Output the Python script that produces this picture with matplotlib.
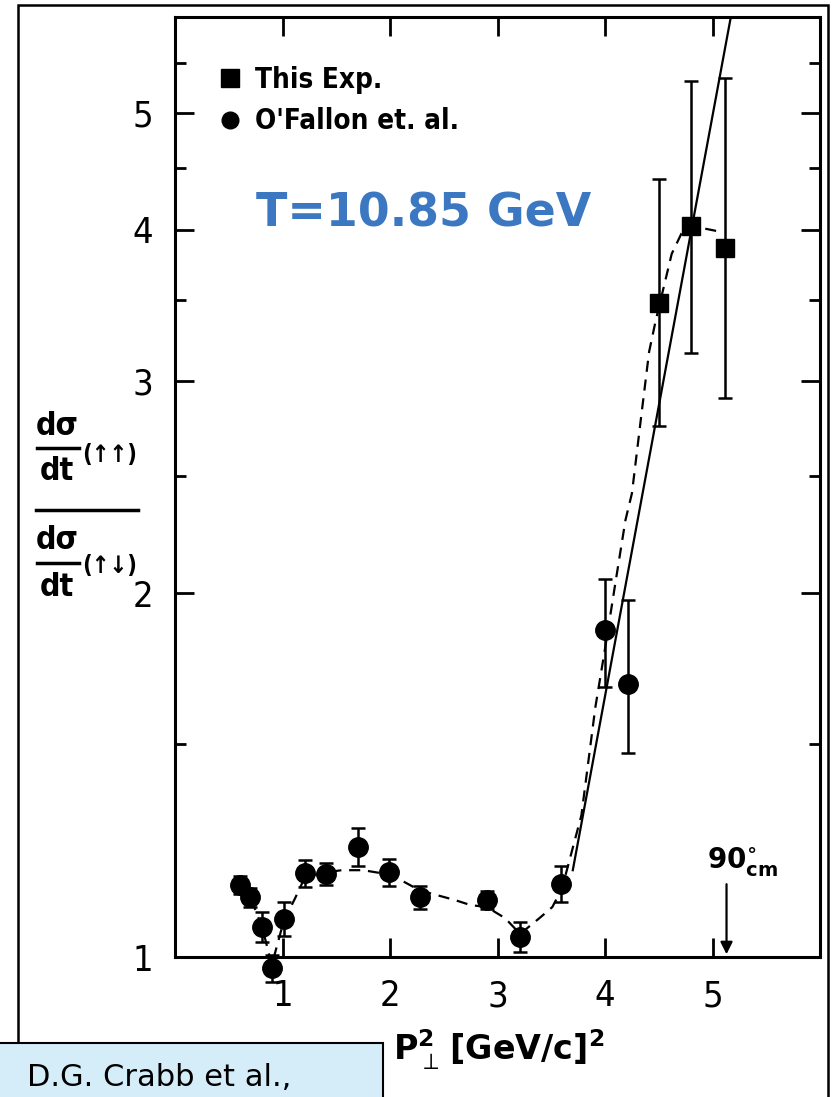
import matplotlib
matplotlib.use('Agg')
import matplotlib.pyplot as plt
from matplotlib.patches import Rectangle
from matplotlib.lines import Line2D
from matplotlib.ticker import NullFormatter

# O'Fallon et al. points (circles)
ofallon_x = [0.60, 0.70, 0.81, 0.90, 1.01, 1.21, 1.40, 1.70, 1.99, 2.28, 2.90, 3.21, 3.59, 4.00, 4.21]
ofallon_y = [1.147, 1.121, 1.059, 0.979, 1.076, 1.173, 1.172, 1.234, 1.176, 1.121, 1.115, 1.039, 1.150, 1.864, 1.684]
ofallon_lo = [0.02, 0.02, 0.03, 0.025, 0.035, 0.03, 0.025, 0.045, 0.03, 0.025, 0.02, 0.03, 0.04, 0.19, 0.21]
ofallon_hi = [0.02, 0.02, 0.03, 0.025, 0.035, 0.03, 0.025, 0.045, 0.03, 0.025, 0.02, 0.03, 0.04, 0.19, 0.29]

# this experiment (squares)
exp_x = [4.50, 4.80, 5.12]
exp_y = [3.48, 4.03, 3.86]
exp_lo = [0.73, 0.87, 0.96]
exp_hi = [0.93, 1.28, 1.48]

# hand drawn dashed curve
dash_x = [0.60, 0.70, 0.81, 0.90, 1.01, 1.12, 1.21, 1.40, 1.55, 1.75, 2.00, 2.10, 2.28, 2.44, 2.60,
          2.75, 2.90, 3.07, 3.21, 3.39, 3.51, 3.60, 3.78, 3.91, 4.00, 4.10, 4.19, 4.25, 4.34, 4.41,
          4.47, 4.62, 4.71, 4.80, 5.10]
dash_y = [1.147, 1.121, 1.059, 0.985, 1.07, 1.12, 1.165, 1.175, 1.18, 1.18, 1.17, 1.158, 1.135, 1.125, 1.115,
          1.104, 1.10, 1.077, 1.045, 1.077, 1.10, 1.14, 1.31, 1.61, 1.80, 2.05, 2.30, 2.42, 2.82, 3.17,
          3.36, 3.82, 3.97, 4.03, 3.98]

# straight line fit
fit_x = [3.70, 5.17]
fit_y = [1.18, 6.0]

xticks = [1, 2, 3, 4, 5]
yticks = [1, 2, 3, 4, 5]
yminor = [1.5, 2.5, 3.5, 4.5, 5.5]

cond = dict(family='DejaVu Sans', stretch='condensed')
W, H = 835, 1097


def px(x, y):
    return x / W, 1 - y / H


fig = plt.figure(figsize=(W / 100, H / 100), dpi=100)
ax = fig.add_axes([0.2096, 0.1276, 0.7725, 0.8569])

ax.plot(dash_x, dash_y, color='black', lw=1.6, dashes=(5, 3.5))
ax.plot(fit_x, fit_y, color='black', lw=1.6)

eb1 = ax.errorbar(ofallon_x, ofallon_y, yerr=[ofallon_lo, ofallon_hi], fmt='o', color='black',
                  ms=14, elinewidth=1.8, capsize=5, capthick=1.8)
eb2 = ax.errorbar(exp_x, exp_y, yerr=[exp_lo, exp_hi], fmt='s', color='black',
                  ms=13, elinewidth=1.8, capsize=5, capthick=1.8)
for eb in (eb1, eb2):
    for art in eb.get_children():
        art.set_clip_on(False)

ax.set_yscale('log')
ax.set_xlim(0, 6)
ax.set_ylim(1, 6)
ax.set_xticks(xticks)
ax.set_xticklabels([str(v) for v in xticks], fontsize=26, **cond)
ax.set_yticks(yticks)
ax.set_yticklabels([str(v) for v in yticks], fontsize=26, **cond)
ax.set_yticks(yminor, minor=True)
ax.yaxis.set_minor_formatter(NullFormatter())
ax.tick_params(which='both', direction='in', top=True, right=True, width=2)
ax.tick_params(which='major', length=14, pad=16)
ax.tick_params(which='minor', length=8)
for sp in ax.spines.values():
    sp.set_linewidth(2.2)

handles = [Line2D([], [], marker='s', color='black', ls='none', ms=13),
           Line2D([], [], marker='o', color='black', ls='none', ms=12)]
ax.legend(handles, ['This Exp.', "O'Fallon et. al."], loc='upper left', bbox_to_anchor=(0.025, 0.975),
          frameon=False, handletextpad=0.4, labelspacing=0.5, handlelength=1.0,
          prop=dict(size=20, weight='bold', **cond))

ax.text(0.385, 0.79, 'T=10.85 GeV', transform=ax.transAxes, ha='center', va='center',
        fontsize=33, fontweight='bold', color='#3c78c2')

ax.annotate('', xy=(5.13, 1.0), xytext=(5.13, 1.155),
            arrowprops=dict(arrowstyle='-|>', color='black', lw=1.6, mutation_scale=18))
ax.text(5.28, 1.2, r'$\mathbf{90^{\circ}_{cm}}$', ha='center', va='center', fontsize=20)

# x label
fig.text(*px(499, 1050), r'$\mathbf{P}_{\perp}^{\mathbf{2}}\,\mathbf{[GeV/c]^{2}}$', ha='center', va='center',
         fontsize=24)

# y label: ratio of two cross sections, drawn piece by piece
ylab = dict(fontsize=23, fontweight='bold', ha='center', va='center', **cond)
arr = dict(fontsize=17, fontweight='bold', ha='center', va='center', **cond)
fig.text(*px(57, 426), 'd\u03c3', **ylab)
fig.text(*px(57, 472), 'dt', **ylab)
fig.text(*px(110, 455), '(\u2191\u2191)', **arr)
fig.text(*px(57, 541), 'd\u03c3', **ylab)
fig.text(*px(57, 587), 'dt', **ylab)
fig.text(*px(110, 566), '(\u2191\u2193)', **arr)
for x0, x1, y0 in [(37, 79, 448), (37, 79, 563), (36, 138, 510)]:
    fig.add_artist(Line2D([x0 / W, x1 / W], [1 - y0 / H, 1 - y0 / H], transform=fig.transFigure,
                          color='black', lw=2.5))

# outer frame and reference box
fig.add_artist(Rectangle((18 / W, -0.02), 810 / W, 1.0 - 5 / H + 0.02, transform=fig.transFigure,
                         fill=False, edgecolor='black', lw=1.8))
fig.add_artist(Rectangle((-0.01, -0.01), 0.4687, 0.0592, transform=fig.transFigure,
                         facecolor='#d5edf9', edgecolor='black', lw=1.5))
fig.text(*px(27, 1086), 'D.G. Crabb et al.,', fontsize=22, ha='left', va='baseline')

fig.savefig('out.png', dpi=100)
